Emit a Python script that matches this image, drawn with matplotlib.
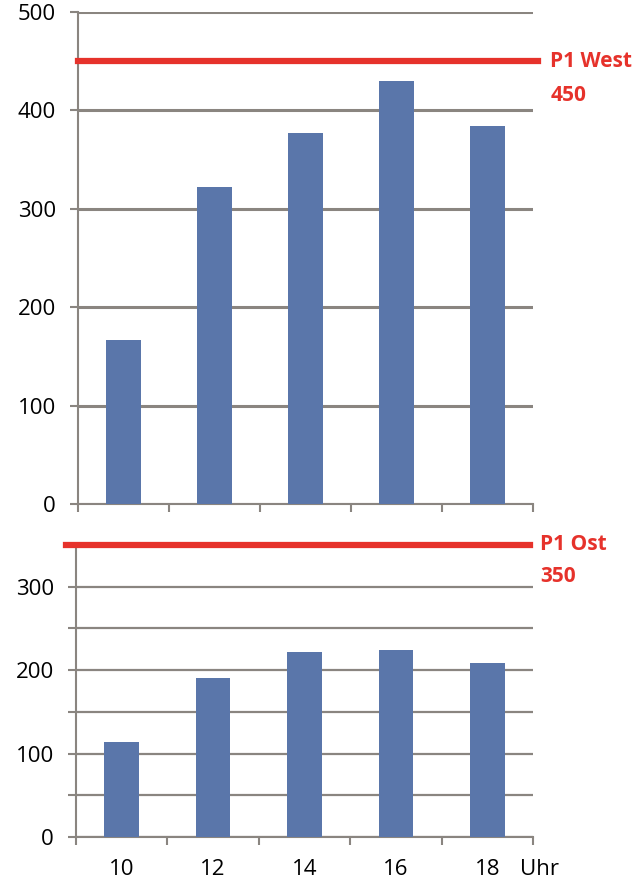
import matplotlib.pyplot as plt
import numpy as np

plt.rcParams['font.family'] = ['Open Sans', 'DejaVu Sans']

# Messwerte je Uhrzeit
uhrzeit = ["10", "12", "14", "16", "18"]
west = [167, 322, 377, 430, 384]
ost = [114, 190, 222, 224, 209]

# Grenzwerte
grenze_west = 450
grenze_ost = 350

blau = "#5a76aa"
rot = "#e6322b"
grau = "#8a8580"

W, H = 638, 881
fig = plt.figure(figsize=(W / 100, H / 100), dpi=100)

ax1 = fig.add_axes([78 / W, 1 - 504 / H, (533 - 78) / W, (504 - 12) / H])
ax2 = fig.add_axes([76 / W, 1 - 837 / H, (533 - 76) / W, (837 - 545) / H])

pos = np.arange(len(uhrzeit))
grenzen = np.arange(len(uhrzeit) + 1) - 0.5

for ax in (ax1, ax2):
    for s in ("top", "right"):
        ax.spines[s].set_visible(False)
    for s in ("left", "bottom"):
        ax.spines[s].set_color(grau)
        ax.spines[s].set_linewidth(1.5)
    ax.set_xlim(-0.5, len(uhrzeit) - 0.5)
    ax.set_xticks(grenzen)
    ax.set_xticklabels([])
    ax.tick_params(axis="both", which="both", colors=grau, length=6, width=1.5,
                   labelcolor="black", labelsize=16)
    ax.tick_params(axis="y", pad=10)
    ax.set_axisbelow(True)

# oben: West
ax1.bar(pos, west, width=0.38, color=blau, zorder=3)
ax1.set_ylim(0, 500)
ax1.set_yticks(np.arange(0, 501, 100))
ax1.yaxis.grid(True, color=grau, linewidth=2.2)
ax1.axhline(grenze_west, xmin=0, xmax=1.011, color=rot, linewidth=4.5,
            clip_on=False, zorder=4)
ax1.annotate("P1 West", xy=(1.038, grenze_west), xycoords=("axes fraction", "data"),
             color=rot, fontsize=15, fontweight="bold", va="center", ha="left")
ax1.annotate(str(grenze_west), xy=(1.038, grenze_west), xycoords=("axes fraction", "data"),
             xytext=(0, -24.5), textcoords="offset points",
             color=rot, fontsize=15, fontweight="bold", va="center", ha="left")

# unten: Ost
ax2.bar(pos, ost, width=0.38, color=blau, zorder=3)
ax2.set_ylim(0, 350)
ax2.set_yticks(np.arange(0, 301, 100))
ax2.set_yticks(np.arange(50, 301, 100), minor=True)
ax2.yaxis.grid(True, which="both", color=grau, linewidth=1.6)
ax2.set_xticks(pos, uhrzeit, minor=True)
ax2.tick_params(axis="x", which="minor", length=0, pad=0)
for lbl in ax2.get_xticklabels(minor=True):
    lbl.set_verticalalignment("center")
    lbl.set_y(-0.113)
ax2.axhline(grenze_ost, xmin=-0.022, xmax=0.993, color=rot, linewidth=4.5,
            clip_on=False, zorder=4)
ax2.annotate("P1 Ost", xy=(1.016, grenze_ost), xycoords=("axes fraction", "data"),
             color=rot, fontsize=15, fontweight="bold", va="center", ha="left")
ax2.annotate(str(grenze_ost), xy=(1.016, grenze_ost), xycoords=("axes fraction", "data"),
             xytext=(0, -23), textcoords="offset points",
             color=rot, fontsize=15, fontweight="bold", va="center", ha="left")
ax2.text(0.972, -0.113, "Uhr", transform=ax2.transAxes, fontsize=16,
         ha="left", va="center")

fig.savefig("out.png", dpi=100)
